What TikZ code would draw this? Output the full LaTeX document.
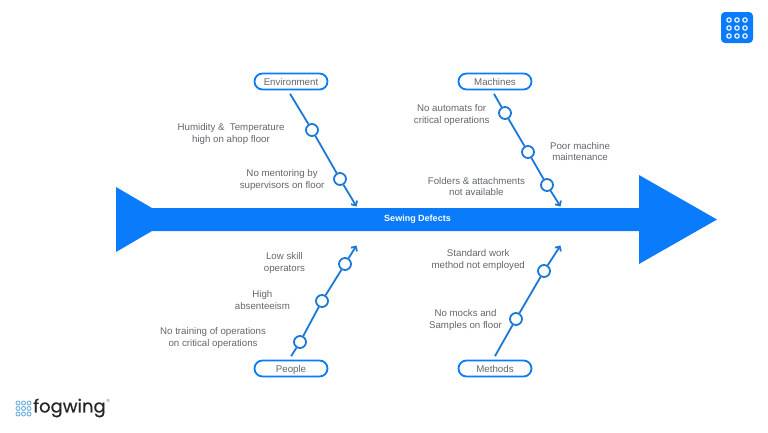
\documentclass[tikz,border=0pt]{standalone}
\usepackage{fontspec}
\setmainfont{Liberation Sans}
\newfontfamily\logofont[FakeBold=0.5]{Poppins}
\usepackage{xcolor}
\usetikzlibrary{arrows.meta, positioning}
\definecolor{fishblue}{HTML}{0A7BFB}
\definecolor{bonecol}{HTML}{1A78D6}
\definecolor{labelcol}{HTML}{62666B}
\definecolor{dotcol}{HTML}{6FAEDD}

\begin{document}
\begin{tikzpicture}[
  x=1pt, y=-1pt,
  font=\fontsize{9.7}{11.8}\selectfont,
  text=labelcol,
  node distance=6pt and 6pt,
  pill/.style={
    draw=fishblue,
    line width=1.8pt,
    fill=white,
    rounded corners=8pt,
    align=center,
    inner sep=0pt,
    text height=7pt,
    text depth=0pt,
    minimum height=16pt,
    minimum width=73pt
  },
  ring/.style={
    circle,
    draw=bonecol,
    line width=1.8pt,
    fill=white,
    inner sep=0pt,
    minimum size=12pt
  },
  lbl/.style={align=center, inner sep=0pt},
  bone/.style={draw=bonecol, line width=1.8pt},
  arrow/.style={bone, -{Straight Barb[length=3.5pt, width=7pt]}}
]
\useasboundingbox (0,0) rectangle (768,432);

% ================= Fish body =================
\fill[fishblue] (116,187) -- (152,208) -- (639,208) -- (639,175) -- (717,219.5)
  -- (639,264) -- (639,231) -- (152,231) -- (116,252) -- cycle;
\node[font=\fontsize{9}{10}\selectfont\bfseries, text=white] (spine) at (417.5,219.5)
  {Sewing Defects};

% ================= Environment branch =================
\node[pill] (env_pill) at (291,81.5) {Environment};
\coordinate (env_end) at (356.5,206.5);
\node[ring] (env_a) at (312,130) {};
\node[ring] (env_b) at (340,179) {};
\draw[bone, shorten <=4pt] ([xshift=-3pt]env_pill.south) -- (env_a);
\draw[bone] (env_a) -- (env_b);
\draw[arrow] (env_b) -- (env_end);
\node[lbl, left=20.5pt of env_a, yshift=-4pt] (env_a_txt) {Humidity \&\ \ Temperature\\high on ahop floor};
\node[lbl, left=8.5pt of env_b, yshift=-1pt] (env_b_txt) {No mentoring by\\supervisors on floor};

% ================= Machines branch =================
\node[pill] (mach_pill) at (495,81.5) {Machines};
\coordinate (mach_end) at (560.5,206.5);
\node[ring] (mach_a) at (505,113) {};
\node[ring] (mach_b) at (528,152) {};
\node[ring] (mach_c) at (547,185) {};
\draw[bone, shorten <=4pt] ([xshift=-3pt]mach_pill.south) -- (mach_a);
\draw[bone] (mach_a) -- (mach_b);
\draw[bone] (mach_b) -- (mach_c);
\draw[arrow] (mach_c) -- (mach_end);
\node[lbl, left=8.5pt of mach_a, yshift=-2pt] (mach_a_txt) {No automats for\\critical operations};
\node[lbl, right=15pt of mach_b, yshift=0.5pt] (mach_b_txt) {Poor machine\\maintenance};
\node[lbl, left=15pt of mach_c, yshift=-1.5pt] (mach_c_txt) {Folders \& attachments\\not available};

% ================= People branch =================
\node[pill] (ppl_pill) at (291,368.5) {People};
\coordinate (ppl_end) at (356.5,245.5);
\node[ring] (ppl_a) at (300,342) {};
\node[ring] (ppl_b) at (322,301) {};
\node[ring] (ppl_c) at (345,264) {};
\draw[bone, shorten <=4pt] ([xshift=-2pt]ppl_pill.north) -- (ppl_a);
\draw[bone] (ppl_a) -- (ppl_b);
\draw[bone] (ppl_b) -- (ppl_c);
\draw[arrow] (ppl_c) -- (ppl_end);
\node[lbl, left=27pt of ppl_a, yshift=4pt] (ppl_a_txt) {No training of operations\\on critical operations};
\node[lbl, left=25pt of ppl_b, yshift=1pt] (ppl_b_txt) {High\\absenteeism};
\node[lbl, left=33pt of ppl_c, yshift=1pt] (ppl_c_txt) {Low skill\\operators};

% ================= Methods branch =================
\node[pill] (meth_pill) at (495,368.5) {Methods};
\coordinate (meth_end) at (560.5,245.5);
\node[ring] (meth_a) at (516,319) {};
\node[ring] (meth_b) at (544,271) {};
\draw[bone, shorten <=4pt] ([xshift=-2pt]meth_pill.north) -- (meth_a);
\draw[bone] (meth_a) -- (meth_b);
\draw[arrow] (meth_b) -- (meth_end);
\node[lbl, left=7pt of meth_a, yshift=-1pt] (meth_a_txt) {No mocks and\\Samples on floor};
\node[lbl, left=12pt of meth_b, yshift=11pt] (meth_b_txt) {Standard work\\method not employed};

% ================= Corner icon and logo =================
\fill[fishblue, rounded corners=4pt] (721,12) rectangle (753,43);
\foreach \px in {729,737,745}
  \foreach \py in {20,28,36}
    \draw[white, line width=1.1pt] (\px,\py) circle[radius=2.2];

\foreach \px in {18,23.5,29}
  \foreach \py in {403,408.5,414}
    \draw[dotcol, line width=0.9pt] (\px,\py) circle[radius=2];
\node[font=\logofont\fontsize{18}{18}\selectfont, text=black!85, anchor=west, inner sep=0pt]
  (logo) at (33,408) {fogwing};
\node[font=\fontsize{4.5}{5}\selectfont, right=0.5pt of logo, yshift=7pt, inner sep=0pt] (logo_r) {®};

\end{tikzpicture}
\end{document}
